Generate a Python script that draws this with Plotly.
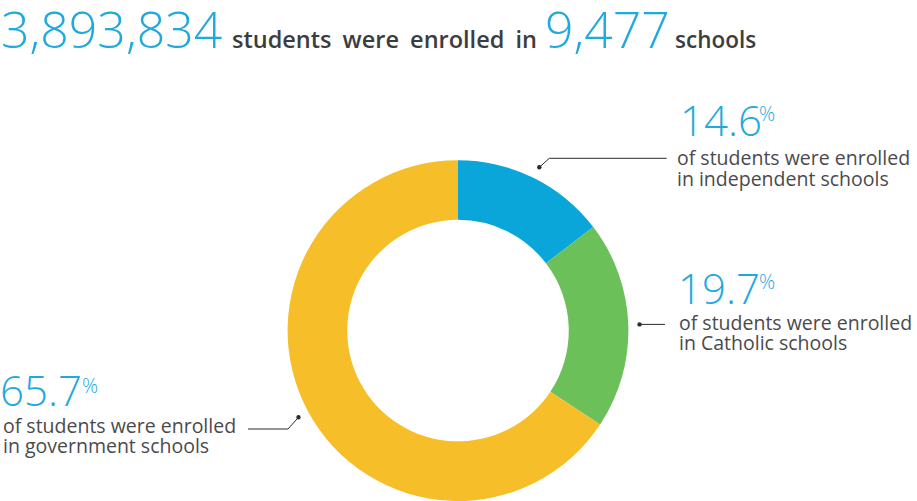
import plotly.graph_objects as go

W, H = 917, 501

# ---- data ----
sectors = ["Independent", "Catholic", "Government"]
shares = [14.6, 19.7, 65.7]
colors = ["#0BA6D9", "#6CC05A", "#F6BF2A"]
desc_lines = [
    ["of students were enrolled", "in independent schools"],
    ["of students were enrolled", "in Catholic schools"],
    ["of students were enrolled", "in government schools"],
]
total_students = "3,893,834"
total_schools = "9,477"
title_mid = "students were enrolled in"
title_tail = "schools"

BLUE_TXT = "#1FA9DD"
GREY_TXT = "#4A4A4C"
DARK_TXT = "#3D3D3F"
FONT = "Open Sans"


def px(x):
    return x / W


def py(y):
    return 1 - y / H


def mid(baseline, size):
    # annotation centre for a single line whose baseline sits at `baseline`
    return py(baseline - 0.388 * size)


cx, cy, R = 458, 330.6, 171.3

fig = go.Figure(
    go.Pie(
        labels=sectors,
        values=shares,
        marker=dict(colors=colors, line=dict(width=0)),
        hole=0.65,
        sort=False,
        direction="clockwise",
        rotation=0,
        textinfo="none",
        hoverinfo="label+percent",
        showlegend=False,
        domain=dict(x=[px(cx - R), px(cx + R)], y=[0, py(cy) * 2]),
    )
)

annotations = []


def add_text(x, baseline, text, size, color, weight=400, anchor="left", extra=""):
    annotations.append(dict(
        x=px(x), y=mid(baseline, size), xref="paper", yref="paper",
        text=f'<span style="font-weight:{weight};{extra}">{text}</span>', showarrow=False,
        xanchor=anchor, yanchor="middle", align="left",
        font=dict(family=FONT, size=size, color=color)))


# title line
TB = 48.3
add_text(-1.2, TB, total_students, 50, BLUE_TXT, 300)
add_text(230.3, TB, title_mid, 23.5, DARK_TXT, 600, extra="word-spacing:5px")
add_text(543, TB, total_schools, 50, BLUE_TXT, 300)
add_text(715.5, TB, title_tail, 22.5, DARK_TXT, 600, anchor="center")

# labels: (pct x, pct baseline, % x, % centre, desc x, desc baselines)
label_pos = [
    (677.8, 136, 756.5, 113.3, 674.8, (165.3, 185.7)),
    (676.2, 303.3, 756.5, 281.9, 677.3, (330, 350)),
    (-2.5, 405.7, 80.3, 385.1, 0.7, (433.3, 453.3)),
]
PCT = 42
DESC = 19.5
for v, lines, (lx, lb, sx, sc, dx, dbs) in zip(shares, desc_lines, label_pos):
    add_text(lx, lb, f"{v}", PCT, BLUE_TXT, 300)
    annotations.append(dict(x=px(sx), y=py(sc), xref="paper", yref="paper",
                            text='<span style="font-weight:300">%</span>', showarrow=False,
                            xanchor="left", yanchor="middle",
                            font=dict(family=FONT, size=20, color=BLUE_TXT)))
    for ln, b in zip(lines, dbs):
        add_text(dx, b, ln, DESC, GREY_TXT, 400)

# leader lines
LINE = "#2B2B2B"
leaders = [
    [(539.3, 167.3), (549.3, 158.3), (666.7, 158.3)],
    [(639.5, 324.4), (665, 324.4)],
    [(298.5, 417.3), (288, 429), (248, 429)],
]
shapes = []
for pts in leaders:
    path = "M " + " L ".join(f"{px(x)},{py(y)}" for x, y in pts)
    shapes.append(dict(type="path", path=path, xref="paper", yref="paper",
                       line=dict(color=LINE, width=1)))
    x0, y0 = pts[0]
    r = 2.2
    shapes.append(dict(type="circle", xref="paper", yref="paper",
                       x0=px(x0 - r), x1=px(x0 + r), y0=py(y0 + r), y1=py(y0 - r),
                       fillcolor=LINE, line=dict(width=0)))

fig.update_layout(
    width=W, height=H,
    margin=dict(l=0, r=0, t=0, b=0),
    paper_bgcolor="white", plot_bgcolor="white",
    annotations=annotations,
    shapes=shapes,
    font=dict(family=FONT),
)

fig.write_html(
    "out.html",
    config={"displayModeBar": False},
    post_script="document.body.style.margin='0';document.body.style.overflow='hidden';",
)
